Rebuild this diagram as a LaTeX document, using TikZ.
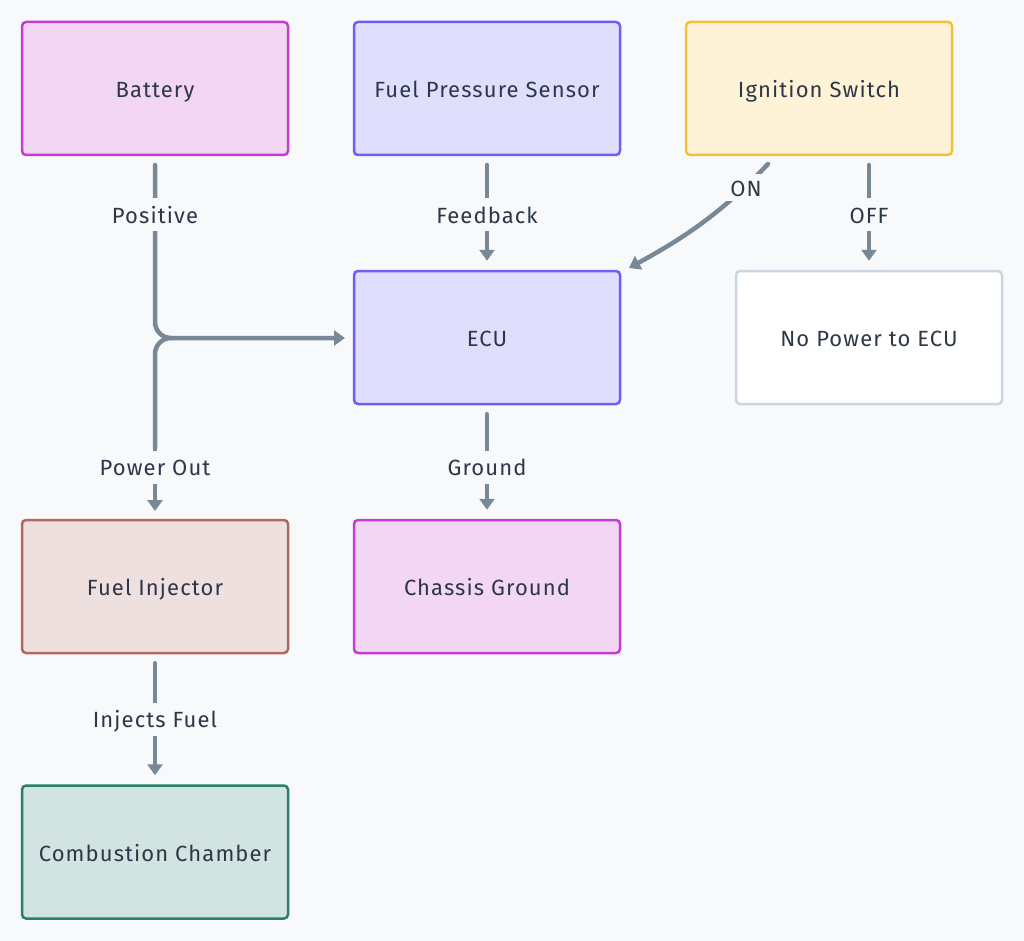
\documentclass[tikz,border=0pt]{standalone}
\usepackage{fontspec}
\setmainfont[LetterSpace=5]{Fira Sans}
\usetikzlibrary{arrows.meta}
\definecolor{bg}{HTML}{F7F9FB}
\definecolor{edge}{HTML}{788896}
\definecolor{txt}{HTML}{2D3748}
\definecolor{pinkF}{HTML}{F2D6F4}\definecolor{pinkD}{HTML}{C53BD3}
\definecolor{purpF}{HTML}{E0DEFD}\definecolor{purpD}{HTML}{735CF2}
\definecolor{yelF}{HTML}{FEF3D6}\definecolor{yelD}{HTML}{F4C035}
\definecolor{whD}{HTML}{CBD5E1}
\definecolor{redF}{HTML}{EFE0E0}\definecolor{redD}{HTML}{B5675F}
\definecolor{grnF}{HTML}{D2E4E1}\definecolor{grnD}{HTML}{2A7F6C}
\tikzset{
  box/.style={draw, line width=2.5pt, rounded corners=4pt, minimum width=266pt, minimum height=133pt,
    font=\fontsize{22}{26}\selectfont, text=txt, inner sep=0pt, text height=18pt, text depth=0pt},
  pinkbox/.style={box, fill=pinkF, draw=pinkD},
  purpbox/.style={box, fill=purpF, draw=purpD},
  yelbox/.style={box, fill=yelF, draw=yelD},
  whbox/.style={box, fill=white, draw=whD},
  redbox/.style={box, fill=redF, draw=redD},
  grnbox/.style={box, fill=grnF, draw=grnD},
  conn/.style={draw=edge, line width=4.5pt, line cap=round, -{Triangle[length=11pt,width=15pt]}},
  plain/.style={draw=edge, line width=4.5pt, line cap=round},
  lbl/.style={fill=bg, text=txt, font=\fontsize{22}{26}\selectfont, inner xsep=1pt, inner ysep=8pt, text height=17pt, text depth=0pt},
}
\begin{document}
\begin{tikzpicture}[x=1pt,y=-1pt]
\fill[bg] (0,0) rectangle (1024,941);
\useasboundingbox (0,0) rectangle (1024,941);
\node[pinkbox] (bat) at (155,88.5) {Battery};
\node[purpbox] (fps) at (487,88.5) {Fuel Pressure Sensor};
\node[yelbox] (ign) at (819,88.5) {Ignition Switch};
\node[purpbox] (ecu) at (487,337.5) {ECU};
\node[whbox] (nop) at (869,337.5) {No Power to ECU};
\node[redbox] (inj) at (155,586.5) {Fuel Injector};
\node[pinkbox] (chs) at (487,586.5) {Chassis Ground};
\node[grnbox] (cmb) at (155,852) {Combustion Chamber};
% coordinates
\coordinate (batS) at (155,165);
\coordinate (ecuW) at (345,338);
\coordinate (ecuWs) at (170,338);
\coordinate (injN) at (155,511);
% Battery -> ECU
\draw[conn, rounded corners=16pt] (batS) -- (155,338) -- (ecuW);
\node[lbl] (lpos) at (155,215) {Positive};
% ECU -> Injector
\draw[plain, rounded corners=16pt] (ecuWs) -- (155,338) -- (155,448);
\draw[conn] (155,448) -- (injN);
\node[lbl] (lpow) at (155,467) {Power Out};
% FPS -> ECU
\draw[conn] (fps.south |- batS) -- ([yshift=9pt]ecu.north);
\node[lbl] (lfb) at (487,215) {Feedback};
% Ignition -> ECU ON
\coordinate (onS) at (768,164);
\coordinate (onE) at (629,268);
\draw[conn] (onS) .. controls (720,215) and (680,240) .. (onE);
\node[lbl, inner ysep=5pt, inner xsep=6pt] (lon) at (746,188) {ON};
% Ignition -> No power OFF
\draw[conn] (869,165) -- ([yshift=9pt]nop.north);
\node[lbl] (loff) at (869,215) {OFF};
% ECU -> Chassis
\draw[conn] ([yshift=-9pt]ecu.south) -- ([yshift=9pt]chs.north);
\node[lbl] (lgnd) at (487,467) {Ground};
% Injector -> Combustion
\draw[conn] ([yshift=-9pt]inj.south) -- ([yshift=9pt]cmb.north);
\node[lbl] (linj) at (155,719) {Injects Fuel};
\end{tikzpicture}
\end{document}
